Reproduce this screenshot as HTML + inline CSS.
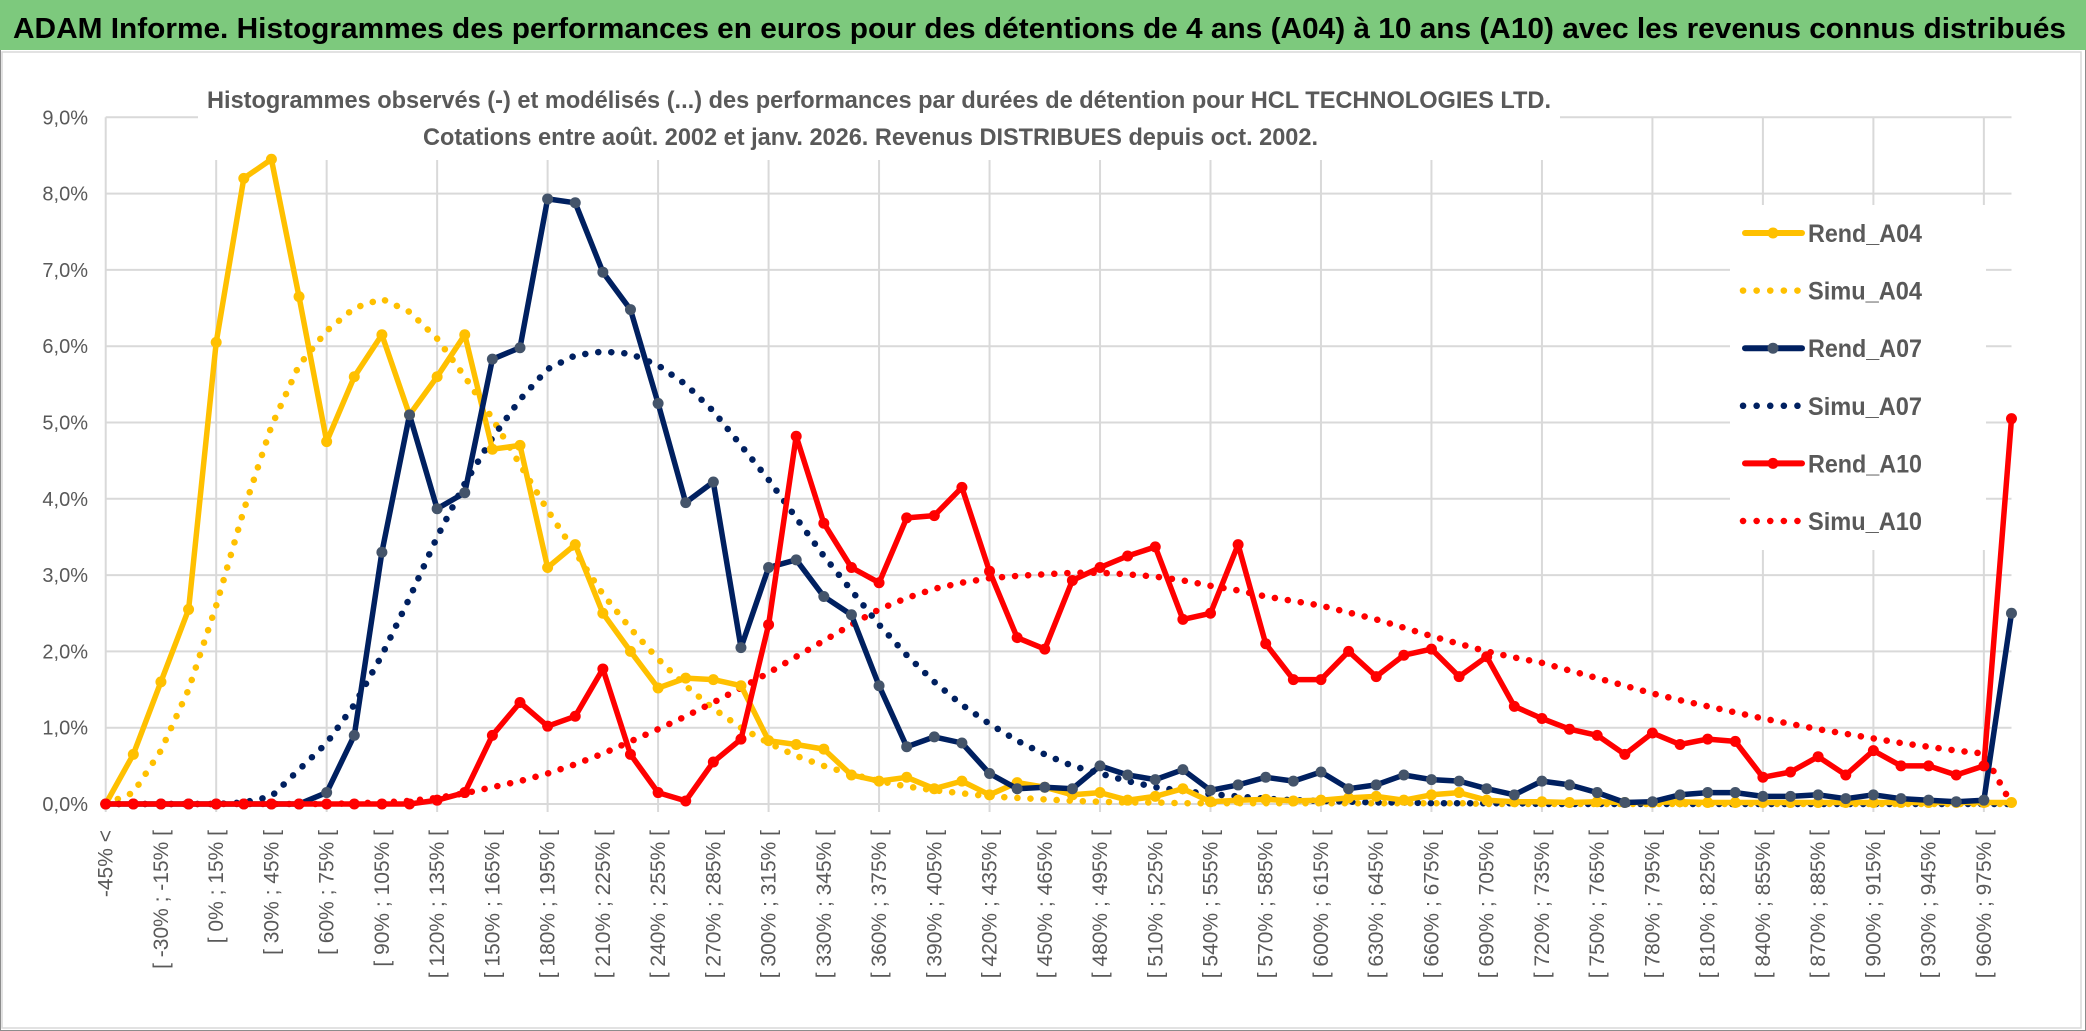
<!DOCTYPE html>
<html><head><meta charset="utf-8"><style>
html,body{margin:0;padding:0;background:#fff;}
svg{display:block;font-family:"Liberation Sans",sans-serif;}
</style></head><body>
<svg id="chart" width="2086" height="1031" viewBox="0 0 2086 1031" xmlns="http://www.w3.org/2000/svg">
<rect x="0" y="0" width="2086" height="1031" fill="#fff" stroke="#8c8c8c" stroke-width="2"/>
<rect x="0" y="0" width="2086" height="50" fill="#7dc97d"/>
<text x="13" y="38" font-size="29" font-weight="bold" fill="#000" textLength="2053" lengthAdjust="spacingAndGlyphs">ADAM Informe. Histogrammes des performances en euros pour des détentions de 4 ans (A04) à 10 ans (A10) avec les revenus connus distribués</text>
<rect x="2" y="52" width="2079" height="976" fill="#fff" stroke="#d9d9d9" stroke-width="1.5"/>
<g id="grid"></g>
<rect x="198" y="78" width="1362" height="82" fill="#fff"/>
<text x="207" y="108" font-size="24" font-weight="bold" fill="#595959" textLength="1344" lengthAdjust="spacingAndGlyphs">Histogrammes observés (-) et modélisés (...) des performances par durées de détention pour HCL TECHNOLOGIES LTD.</text>
<text x="423" y="145" font-size="24" font-weight="bold" fill="#595959" textLength="895" lengthAdjust="spacingAndGlyphs">Cotations entre août. 2002 et janv. 2026. Revenus DISTRIBUES depuis oct. 2002.</text>
<g id="yaxis"></g>
<g id="xaxis"></g>
<g id="series"></g>
<g id="legend"></g>
</svg>
<script>
const categories = ["-45% <"];
for (let k = 1; k <= 69; k++) { const a = -45 + 15 * (k - 1); categories.push("[ " + a + "% ; " + (a + 15) + "% ["); }
const yTicks = [0,1,2,3,4,5,6,7,8,9];
const yTickLabels = ["0,0%","1,0%","2,0%","3,0%","4,0%","5,0%","6,0%","7,0%","8,0%","9,0%"];
const rendA04 = [0,0.65,1.6,2.55,6.05,8.2,8.45,6.65,4.75,5.6,6.15,5.1,5.6,6.15,4.65,4.7,3.1,3.4,2.5,2.0,1.52,1.65,1.63,1.55,0.83,0.78,0.72,0.38,0.3,0.35,0.2,0.3,0.12,0.28,0.22,0.12,0.15,0.05,0.1,0.2,0.03,0.05,0.06,0.04,0.05,0.08,0.1,0.05,0.12,0.15,0.05,0.03,0.03,0.02,0.03,0.02,0.02,0.03,0.02,0.02,0.02,0.02,0.02,0.02,0.02,0.02,0.02,0.02,0.02,0.02];
const simuA04 = [0,0.15,0.7,1.5,2.6,3.85,4.95,5.75,6.2,6.5,6.62,6.45,6.1,5.6,5.05,4.45,3.85,3.3,2.75,2.3,1.9,1.55,1.25,1.0,0.8,0.63,0.5,0.39,0.3,0.23,0.18,0.14,0.1,0.08,0.06,0.04,0.03,0.02,0.02,0.01,0.01,0.01,0.01,0.01,0.01,0.01,0.01,0.01,0.01,0.01,0,0,0,0,0,0,0,0,0,0,0,0,0,0,0,0,0,0,0,0];
const rendA07 = [0,0,0,0,0,0,0,0,0.15,0.9,3.3,5.1,3.87,4.08,5.83,5.98,7.93,7.88,6.97,6.48,5.25,3.95,4.22,2.05,3.1,3.2,2.72,2.48,1.55,0.75,0.88,0.8,0.4,0.2,0.22,0.2,0.5,0.38,0.32,0.45,0.18,0.25,0.35,0.3,0.42,0.2,0.25,0.38,0.32,0.3,0.2,0.12,0.3,0.25,0.15,0.02,0.03,0.12,0.15,0.15,0.1,0.1,0.12,0.07,0.12,0.07,0.05,0.03,0.05,2.5];
const simuA07 = [0,0,0,0,0,0.02,0.1,0.45,0.8,1.3,1.95,2.7,3.5,4.2,4.8,5.3,5.7,5.88,5.93,5.9,5.75,5.5,5.15,4.7,4.25,3.75,3.25,2.8,2.35,1.95,1.6,1.3,1.05,0.83,0.65,0.5,0.4,0.3,0.22,0.17,0.13,0.1,0.07,0.05,0.04,0.03,0.02,0.02,0.01,0.01,0.01,0.01,0,0,0,0,0,0,0,0,0,0,0,0,0,0,0,0,0,0];
const rendA10 = [0,0,0,0,0,0,0,0,0,0,0,0,0.05,0.15,0.9,1.33,1.02,1.15,1.77,0.65,0.15,0.04,0.55,0.85,2.35,4.82,3.68,3.1,2.9,3.75,3.78,4.15,3.05,2.18,2.03,2.93,3.1,3.25,3.37,2.42,2.5,3.4,2.1,1.63,1.63,2.0,1.67,1.95,2.03,1.67,1.93,1.28,1.12,0.98,0.9,0.65,0.93,0.78,0.85,0.82,0.35,0.42,0.62,0.38,0.7,0.5,0.5,0.38,0.5,5.05];
const simuA10 = [0,0,0,0,0,0,0,0,0,0.01,0.02,0.04,0.08,0.14,0.22,0.3,0.4,0.52,0.66,0.82,0.98,1.15,1.33,1.52,1.72,1.93,2.14,2.35,2.55,2.7,2.82,2.9,2.96,2.99,3.01,3.03,3.03,3.01,2.98,2.93,2.86,2.8,2.72,2.66,2.6,2.51,2.42,2.31,2.2,2.1,2.0,1.92,1.85,1.75,1.65,1.55,1.45,1.36,1.28,1.2,1.12,1.05,0.98,0.92,0.86,0.8,0.75,0.7,0.66,0];

const NS = "http://www.w3.org/2000/svg";
const X0 = 105.7, DX = 27.62, Y0 = 804, DY = 76.3;
function xPos(i){ return X0 + i * DX; }
function yPos(v){ return Y0 - v * DY; }
function mk(tag, attrs, parent){ const e = document.createElementNS(NS, tag); for (const k in attrs) e.setAttribute(k, attrs[k]); parent.appendChild(e); return e; }

const grid = document.getElementById("grid");
yTicks.forEach(t => {
  const l = mk("line", {x1: X0, x2: xPos(69), y1: yPos(t), y2: yPos(t), stroke: "#d9d9d9", "stroke-width": 2}, grid);
  
  
});
for (let i = 0; i <= 69; i += 4) {
  const l = mk("line", {x1: xPos(i), x2: xPos(i), y1: yPos(9), y2: Y0 + 8, stroke: "#d9d9d9", "stroke-width": 2}, grid);
  
  
}
const yax = document.getElementById("yaxis");
yTicks.forEach((t, k) => {
  const tx = mk("text", {x: 88, y: yPos(t) + 7, "text-anchor": "end", "font-size": 20, fill: "#595959"}, yax);
  tx.textContent = yTickLabels[k];
  
  
});
const xax = document.getElementById("xaxis");
categories.forEach((c, i) => {
  if (i % 2) return;
  const x = xPos(i) + 7, y = 830;
  const tx = mk("text", {x: x, y: y, "text-anchor": "end", "font-size": 21, fill: "#595959", transform: "rotate(-90 " + x + " " + y + ")"}, xax);
  tx.textContent = c;
  
  
});

const ser = document.getElementById("series");
function pts(arr){ return arr.map((v, i) => xPos(i).toFixed(1) + "," + yPos(v).toFixed(1)).join(" "); }
function dotted(arr, color, name){
  const p = mk("polyline", {points: pts(arr), fill: "none", stroke: color, "stroke-width": 6.5, "stroke-linecap": "round", "stroke-dasharray": "0.1 13", "stroke-linejoin": "round"}, ser);
  
  
}
function solid(arr, color, mcolor, name){
  const g = mk("g", {}, ser);
  
  
  mk("polyline", {points: pts(arr), fill: "none", stroke: color, "stroke-width": 5.5, "stroke-linejoin": "round"}, g);
  arr.forEach((v, i) => {
    const c = mk("circle", {cx: xPos(i), cy: yPos(v), r: 5.5, fill: mcolor}, g);
    
    
  });
}
dotted(simuA04, "#ffc000", "simu-a04-line");
dotted(simuA07, "#002060", "simu-a07-line");
dotted(simuA10, "#ff0000", "simu-a10-line");
solid(rendA04, "#ffc000", "#ffc000", "rend-a04-line");
solid(rendA07, "#002060", "#44546a", "rend-a07-line");
solid(rendA10, "#ff0000", "#ff0000", "rend-a10-line");

const leg = document.getElementById("legend");
const lb = mk("rect", {x: 1730, y: 205, width: 256, height: 345, fill: "#fff"}, leg);


const legendNames = ["Rend_A04","Simu_A04","Rend_A07","Simu_A07","Rend_A10","Simu_A10"];
const legendColors = ["#ffc000","#ffc000","#002060","#002060","#ff0000","#ff0000"];
const legendMarkers = ["#ffc000","","#44546a","","#ff0000",""];
legendNames.forEach((n, k) => {
  const y = 233 + k * 57.6;
  const g = mk("g", {}, leg);
  
  
  if (legendMarkers[k]) {
    mk("line", {x1: 1745, x2: 1802, y1: y, y2: y, stroke: legendColors[k], "stroke-width": 6, "stroke-linecap": "round"}, g);
    mk("circle", {cx: 1773, cy: y, r: 5.5, fill: legendMarkers[k]}, g);
  } else {
    mk("line", {x1: 1743, x2: 1802, y1: y, y2: y, stroke: legendColors[k], "stroke-width": 6.5, "stroke-linecap": "round", "stroke-dasharray": "0.1 13.5"}, g);
  }
  const t = mk("text", {x: 1808, y: y + 9, "font-size": 25, "font-weight": "bold", fill: "#595959", textLength: 114, lengthAdjust: "spacingAndGlyphs"}, g);
  t.textContent = n;
});
</script>
</body></html>
